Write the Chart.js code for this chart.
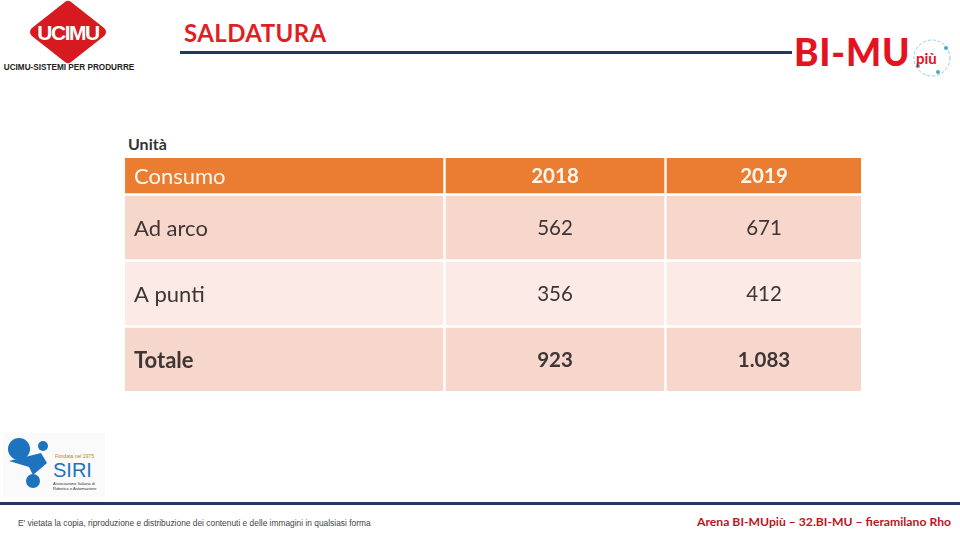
<!DOCTYPE html>
<html>
<head>
<meta charset="utf-8">
<script src="https://cdn.jsdelivr.net/npm/chart.js@4/dist/chart.umd.min.js"></script>
<style>
  body { margin:0; width:960px; height:540px; background:#fff; position:relative; overflow:hidden; font-family:Lato, "Open Sans", sans-serif; }
  .abs { position:absolute; }
  #title { left:184px; top:18px; font-size:24px; font-weight:700; color:#E21E25; letter-spacing:0.4px; }
  #topline { left:180px; top:51px; width:612px; height:3px; background:#1F3A5F; }
  #bimu { left:794px; top:29px; font-size:37px; font-weight:900; color:#E3141F; letter-spacing:0.8px; }
  #piu { left:916px; top:49px; font-size:15px; font-weight:700; color:#E3141F; }
  #unita { left:128px; top:134px; font-size:16px; font-weight:700; color:#333; }
  #tableWrap { left:125px; top:158px; width:736px; height:233px; }
  #botline { left:0; top:502px; width:960px; height:3px; background:#1F3A5F; }
  #note { left:18px; top:518px; font-size:8.4px; color:#444; font-family:"Liberation Sans", sans-serif; }
  #arena { left:697px; top:514px; font-size:12.2px; font-weight:700; color:#C0141C; }
</style>
</head>
<body>
<!-- UCIMU logo -->
<svg class="abs" style="left:0;top:0" width="140" height="75">
  <polygon points="68,6 101,32 68,58 35,32" fill="#D71920" stroke="#D71920" stroke-width="10" stroke-linejoin="round"/>
  <text x="68" y="40" text-anchor="middle" font-family="Liberation Sans" font-weight="bold" font-size="21" fill="#fff" letter-spacing="-1.5">UCIMU</text>
  <text x="69" y="70" text-anchor="middle" font-family="Liberation Sans" font-weight="bold" font-size="8.2" fill="#222">UCIMU-SISTEMI PER PRODURRE</text>
</svg>
<div id="title" class="abs">SALDATURA</div>
<div id="topline" class="abs"></div>
<div id="bimu" class="abs">BI-MU</div>
<svg class="abs" style="left:908px;top:36px" width="50" height="45">
  <circle cx="24" cy="22" r="18" fill="none" stroke="#8CCBE0" stroke-width="1" stroke-dasharray="3 2"/>
  <circle cx="10" cy="30" r="2" fill="#4FA8C8"/><circle cx="30" cy="36" r="2" fill="#4FA8C8"/><circle cx="38" cy="12" r="2" fill="#4FA8C8"/>
</svg>
<div id="piu" class="abs">più</div>
<div id="unita" class="abs">Unità</div>

<div id="tableWrap" class="abs"><canvas id="tabella"></canvas></div>

<!-- SIRI logo -->
<svg class="abs" style="left:3px;top:433px" width="102" height="64">
  <rect x="0" y="0" width="102" height="64" fill="#fafafa"/>
  <circle cx="16" cy="16" r="11" fill="#1E73BE"/>
  <circle cx="30" cy="48" r="7" fill="#1E73BE"/>
  <path d="M6 28 L38 20 L44 30 L30 42 L26 34 Z" fill="#1E73BE"/>
  <circle cx="40" cy="13" r="5" fill="#1E73BE"/>
  <text x="52" y="25" font-family="Liberation Sans" font-size="5" fill="#B8860B">Fondata nel 1975</text>
  <text x="50" y="44" font-family="Liberation Sans" font-size="20" fill="#1E73BE">SIRI</text>
  <text x="50" y="52" font-family="Liberation Sans" font-size="4" fill="#333">Associazione Italiana di</text>
  <text x="50" y="57" font-family="Liberation Sans" font-size="4" fill="#333">Robotica e Automazione</text>
</svg>
<div id="botline" class="abs"></div>
<div id="note" class="abs">E' vietata la copia, riproduzione e distribuzione dei contenuti e delle immagini in qualsiasi forma</div>
<div id="arena" class="abs">Arena BI-MUpiù – 32.BI-MU – fieramilano Rho</div>

<script>
// data
var headers = ['Consumo', '2018', '2019'];
var categories = ['Ad arco', 'A punti', 'Totale'];
var values2018 = [562, 356, 923];
var values2019 = [671, 412, 1083];

// layout of the table
var colWidths = [318, 218, 194];
var rowHeights = [35, 63, 63, 63];
var gap = 3;
var rowColors = ['#EB7D32', '#F7D6CB', '#FBEAE5', '#F7D6CB'];

function edges(sizes) {
  var out = [], pos = 0;
  sizes.forEach(function (s) { out.push([pos, pos + s]); pos += s + gap; });
  return out;
}
var colEdges = edges(colWidths);
var rowEdges = edges(rowHeights);
var totW = colEdges[colEdges.length - 1][1];
var totH = rowEdges[rowEdges.length - 1][1];

function fmt(n) {
  return String(n).replace(/\B(?=(\d{3})+(?!\d))/g, '.');
}

// text of each cell, row by row
function cellText(r, c) {
  if (r == 0) return headers[c];
  if (c == 0) return categories[r - 1];
  var arr = c == 1 ? values2018 : values2019;
  return fmt(arr[r - 1]);
}

var datasets = rowEdges.map(function (re, r) {
  return {
    data: colEdges.map(function (ce) { return { x: [ce[0], ce[1]], y: (re[0] + re[1]) / 2 }; }),
    backgroundColor: rowColors[r],
    borderWidth: 0,
    barThickness: rowHeights[r],
    grouped: false
  };
});

var cellLabels = {
  id: 'cellLabels',
  afterDatasetsDraw: function (chart) {
    var ctx = chart.ctx;
    var xs = chart.scales.x, ys = chart.scales.y;
    ctx.save();
    ctx.textBaseline = 'middle';
    rowEdges.forEach(function (re, r) {
      var yc = ys.getPixelForValue((re[0] + re[1]) / 2) + 1;
      colEdges.forEach(function (ce, c) {
        var bold = r == 3 || r == 0 && c > 0;
        var size = c == 0 ? 22 : 20.5;
        ctx.font = (bold ? '700 ' : '400 ') + size + 'px Lato, "Open Sans", sans-serif';
        ctx.fillStyle = r == 0 ? '#FFF7EE' : '#3E3535';
        if (c == 0) {
          ctx.textAlign = 'left';
          ctx.fillText(cellText(r, c), xs.getPixelForValue(ce[0]) + 9, yc);
        } else {
          ctx.textAlign = 'center';
          ctx.fillText(cellText(r, c), xs.getPixelForValue((ce[0] + ce[1]) / 2), yc);
        }
      });
    });
    ctx.restore();
  }
};

new Chart(document.getElementById('tabella'), {
  type: 'bar',
  data: { datasets: datasets },
  options: {
    indexAxis: 'y',
    responsive: true,
    maintainAspectRatio: false,
    animation: false,
    layout: { padding: 0 },
    plugins: { legend: { display: false }, tooltip: { enabled: false } },
    scales: {
      x: { type: 'linear', min: 0, max: totW, display: false },
      y: { type: 'linear', min: 0, max: totH, reverse: true, offset: false, display: false }
    }
  },
  plugins: [cellLabels]
});
</script>
</body>
</html>
